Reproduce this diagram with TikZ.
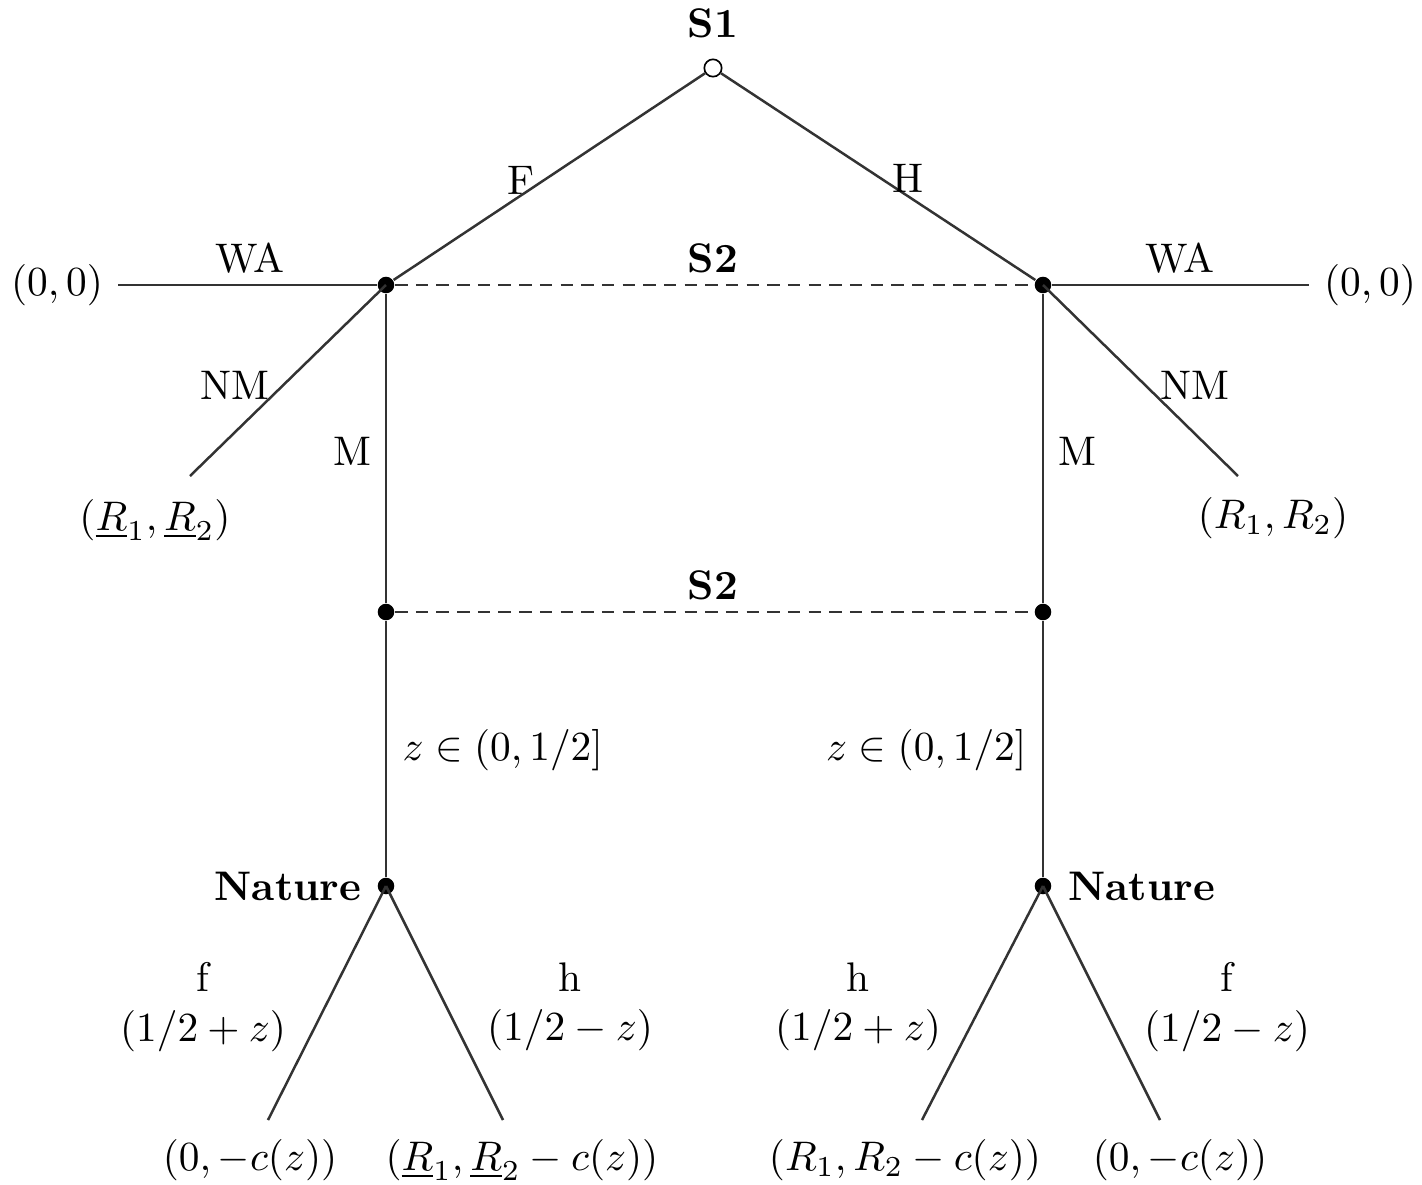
\documentclass[tikz,border=0pt]{standalone}
\usepackage{amsmath,amssymb}
\usetikzlibrary{positioning}

\begin{document}
\begin{tikzpicture}[x=0.0085cm, y=-0.0085cm,
  dec/.style={circle,fill,inner sep=0pt,minimum size=4pt},
  start/.style={circle,draw,fill=white,inner sep=0pt,minimum size=4.2pt},
  move/.style={draw,black!80,line width=0.6pt},
  info/.style={draw,black!80,line width=0.6pt,dash pattern=on 3pt off 2pt},
  player/.style={font=\bfseries}]
  \useasboundingbox (0,0) rectangle (1422,1185);

  % decision nodes
  \node[start] (s1) at (713,68) {};
  \node[player,above=0.5mm of s1] (s1lab) {S1};
  \node[dec] (s2l) at (386,285) {};
  \node[dec] (s2r) at (1043,285) {};
  \node[dec] (m2l) at (386,612) {};
  \node[dec] (m2r) at (1043,612) {};
  \node[dec] (natl) at (386,886) {};
  \node[dec] (natr) at (1043,886) {};
  \node[player,anchor=east] (natllab) at (376,886) {Nature};
  \node[player,anchor=west] (natrlab) at (1054,886) {Nature};

  % payoffs
  \node (wal) at (57,285) {$(0,0)$};
  \node (war) at (1370,285) {$(0,0)$};
  \coordinate (nml) at (190,476);
  \coordinate (nmr) at (1238,476);
  \node (nmlp) at (155,520) {$(\underline{R}_1,\underline{R}_2)$};
  \node (nmrp) at (1273,518) {$(R_1,R_2)$};
  \coordinate (fl) at (268,1120);
  \coordinate (hl) at (503,1120);
  \coordinate (hr) at (922,1120);
  \coordinate (fr) at (1160,1120);
  \node (flp) at (250,1160) {$(0,-c(z))$};
  \node (hlp) at (522,1160) {$(\underline{R}_1,\underline{R}_2-c(z))$};
  \node (hrp) at (905,1160) {$(R_1,R_2-c(z))$};
  \node (frp) at (1180,1160) {$(0,-c(z))$};

  % moves
  \draw[move] (s1) -- (s2l);
  \draw[move] (s1) -- (s2r);
  \draw[move] (s2l) -- (wal);
  \draw[move] (s2r) -- (war);
  \draw[move] (s2l.center) -- (nml);
  \draw[move] (s2r.center) -- (nmr);
  \draw[move] (s2l) -- (m2l);
  \draw[move] (s2r) -- (m2r);
  \draw[move] (m2l) -- (natl);
  \draw[move] (m2r) -- (natr);
  \draw[move] (natl.center) -- (fl);
  \draw[move] (natl.center) -- (hl);
  \draw[move] (natr.center) -- (hr);
  \draw[move] (natr.center) -- (fr);

  % information sets
  \draw[info] (s2l) -- (s2r);
  \draw[info] (m2l) -- (m2r);
  \node[player] (s2top) at (713,258) {S2};
  \node[player] (s2bot) at (713,585) {S2};

  % labels
  \node (lf) at (521,180) {F};
  \node (lh) at (908,178) {H};
  \node (lwal) at (250,258) {WA};
  \node (lwar) at (1180,258) {WA};
  \node (lnml) at (235,385) {NM};
  \node (lnmr) at (1195,385) {NM};
  \node (lml) at (352,451) {M};
  \node (lmr) at (1077,451) {M};
  \node[anchor=west] (zl) at (388,750) {$z\in(0,1/2]$};
  \node[anchor=east] (zr) at (1041,750) {$z\in(0,1/2]$};
  \node[align=center] (pfl) at (203,1007) {f\\$(1/2+z)$};
  \node[align=center] (phl) at (570,1007) {h\\$(1/2-z)$};
  \node[align=center] (phr) at (858,1007) {h\\$(1/2+z)$};
  \node[align=center] (pfr) at (1227,1007) {f\\$(1/2-z)$};
\end{tikzpicture}
\end{document}
